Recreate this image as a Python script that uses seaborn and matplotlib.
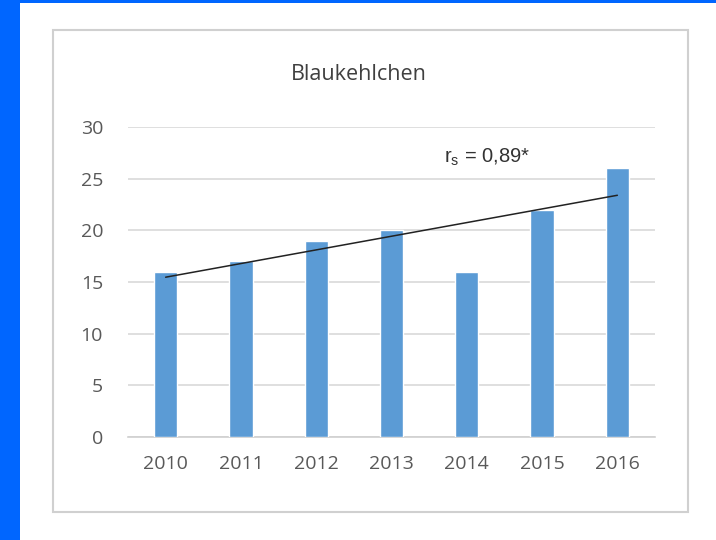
import numpy as np
import pandas as pd
import matplotlib.pyplot as plt
import seaborn as sns
from matplotlib.patches import Rectangle

sns.set_theme(style="white")
plt.rcParams["font.family"] = ["Open Sans", "DejaVu Sans"]
plt.rcParams["mathtext.fontset"] = "custom"
plt.rcParams["mathtext.rm"] = "Liberation Sans"

years = ["2010", "2011", "2012", "2013", "2014", "2015", "2016"]
counts = [16, 17, 19, 20, 16, 22, 26]
title = "Blaukehlchen"
corr_label = "r$_\\mathrm{s}$ = 0,89*"

df = pd.DataFrame({"Jahr": years, "Anzahl": counts})

fig = plt.figure(figsize=(7.16, 5.4), dpi=100)
fig.patch.set_facecolor("white")

# blue frame on the left and top edge
fig.patches.append(Rectangle((0, 0), 20 / 716, 1, transform=fig.transFigure,
                             facecolor="#0066FF", edgecolor="none", zorder=-2))
fig.patches.append(Rectangle((0, 1 - 3 / 540), 1, 3 / 540, transform=fig.transFigure,
                             facecolor="#0066FF", edgecolor="none", zorder=-2))
# chart box
fig.patches.append(Rectangle((53 / 716, 1 - 512 / 540), 635 / 716, 482 / 540,
                             transform=fig.transFigure, facecolor="white",
                             edgecolor="#D0D0D0", linewidth=1.5, zorder=-1))

ax = fig.add_axes([128 / 716, 1 - 437 / 540, 527 / 716, 310 / 540])
ax.set_facecolor("none")

sns.barplot(data=df, x="Jahr", y="Anzahl", color="#5B9BD5", width=0.31,
            saturation=1, ax=ax, zorder=3)

# linear trend line over the bar positions
sns.regplot(x=np.arange(len(counts)), y=np.array(counts, dtype=float), scatter=False,
            ci=None, truncate=True, color="#222222", line_kws={"linewidth": 1.1, "zorder": 4},
            ax=ax)

ax.set_xlim(-0.5, 6.5)
ax.set_ylim(0, 30)
ax.set_yticks(range(0, 31, 5))
ax.set_xticks(range(len(years)))
ax.set_xticklabels(years)
ax.grid(axis="y", color="#D9D9D9", linewidth=1.2, zorder=0)
ax.set_axisbelow(True)
for side in ["top", "right", "left"]:
    ax.spines[side].set_visible(False)
ax.spines["bottom"].set_color("#D0D0D0")
ax.spines["bottom"].set_linewidth(1.2)
ax.tick_params(axis="both", length=0, colors="#595959", labelsize=14)
ax.tick_params(axis="y", pad=18)
ax.tick_params(axis="x", pad=13)
ax.set_xlabel("")
ax.set_ylabel("")

fig.text(359 / 716, 1 - 75 / 540, title, ha="center", va="center",
         fontsize=15.5, color="#404040")
ax.text(3.7, 26.0, corr_label, ha="left", va="bottom", fontsize=14.5,
        color="#333333", family=["Liberation Sans", "DejaVu Sans"])

fig.savefig("out.png", dpi=100)
